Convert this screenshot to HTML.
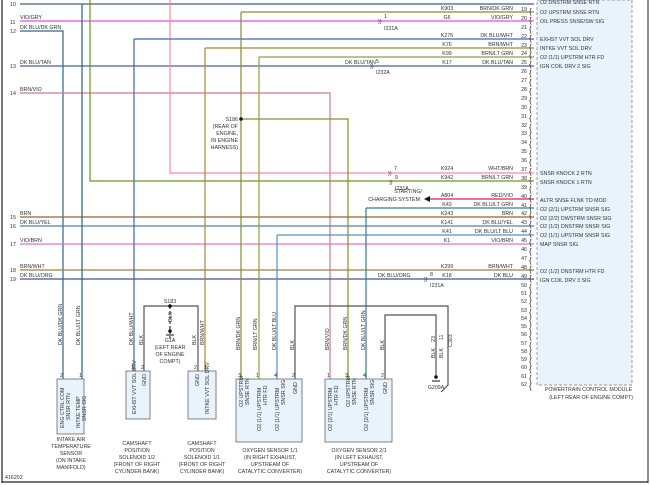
<!DOCTYPE html>
<html><head><meta charset="utf-8"><style>
html,body{margin:0;padding:0;background:#fff}
svg{display:block}
text{font-family:"Liberation Sans",sans-serif;font-size:5.3px;fill:#333}
</style></head><body>
<svg width="650" height="485" viewBox="0 0 650 485" xmlns="http://www.w3.org/2000/svg">
<rect x="0" y="0" width="650" height="485" fill="#fff"/>
<!-- borders -->
<line x1="2" y1="0" x2="2" y2="483" stroke="#222" stroke-width="1.2"/>
<line x1="2" y1="482" x2="648" y2="482" stroke="#222" stroke-width="1.2"/>
<line x1="648" y1="0" x2="648" y2="483" stroke="#222" stroke-width="1"/>
<!-- PCM box -->
<rect x="537" y="0" width="95" height="385" fill="#e8f3fc" stroke="#777" stroke-width="0.7" stroke-dasharray="3,2"/>
<text x="632" y="391" text-anchor="end">POWERTRAIN CONTROL MODULE</text>
<text x="633" y="399" text-anchor="end">(LEFT REAR OF ENGINE COMPT)</text>

<g fill="none" stroke-width="1.2">
<!-- horizontals from left -->
<path d="M20 4 H534" stroke="#3c5f8c"/>
<path d="M20 21 H534" stroke="#e050e0"/>
<path d="M20 31 H63 V379" stroke="#2a6a80"/>
<path d="M20 66 H534" stroke="#4a62a0"/>
<path d="M20 93 H330 V379" stroke="#d07888"/>
<path d="M20 217 H534" stroke="#8a6a20"/>
<path d="M20 226 H534" stroke="#5a80a0"/>
<path d="M20 244 H534" stroke="#e070d0"/>
<path d="M20 270 H534" stroke="#a08040"/>
<path d="M20 279 H534" stroke="#4050a0"/>
<!-- verticals -->
<path d="M82 4 V379" stroke="#206a78"/>
<path d="M90 0 V181 H534" stroke="#6a9a20"/>
<path d="M170 0 V173 H534" stroke="#ff8a9c"/>
<path d="M134 39 H534 M134 39 V371" stroke="#4060c0"/>
<path d="M205 48 H534 M205 48 V371" stroke="#a08840"/>
<path d="M241 12 H534 M241 12 V379" stroke="#8a8a30"/>
<path d="M241 119 H348 V379" stroke="#8a8a30"/>
<path d="M259 57 H534 M259 57 V379" stroke="#90a040"/>
<path d="M277 235 H534 M277 235 V379" stroke="#5090d0"/>
<path d="M366 208 H534 M366 208 V379" stroke="#308090"/>
<path d="M430 199 H534" stroke="#e02040"/>
<!-- grounds -->
<path d="M144 371 V306 H198 V371" stroke="#555"/>
<path d="M295 379 V306 H448 V385 L441 392" stroke="#555"/>
<path d="M385 379 V315 H436 V377" stroke="#555"/>
<path d="M170 306 V340" stroke="#333" stroke-dasharray="3,2"/>
</g>
<polygon points="424,199 430,196 430,202" fill="#111"/>
<circle cx="170" cy="306" r="1.8" fill="#111"/>
<circle cx="241" cy="119" r="1.8" fill="#111"/>
<circle cx="170" cy="331" r="1.8" fill="#111"/><line x1="166" y1="335" x2="174" y2="335" stroke="#111"/>
<circle cx="436" cy="377" r="1.8" fill="#111"/><line x1="432" y1="381" x2="440" y2="381" stroke="#111"/>
<text x="170" y="303" text-anchor="middle">S183</text>
<text x="170" y="342" text-anchor="middle">G1A</text>
<text x="170" y="349" text-anchor="middle">(LEFT REAR</text>
<text x="170" y="356" text-anchor="middle">OF ENGINE</text>
<text x="170" y="363" text-anchor="middle">COMPT)</text>
<text x="436" y="389" text-anchor="middle">G209A</text>
<text x="238" y="121" text-anchor="end">S186</text>
<text x="238" y="128" text-anchor="end">(REAR OF</text>
<text x="238" y="135" text-anchor="end">ENGINE,</text>
<text x="238" y="142" text-anchor="end">IN ENGINE</text>
<text x="238" y="149" text-anchor="end">HARNESS)</text>
<text x="422" y="193" text-anchor="end">STARTING/</text>
<text x="420" y="201" text-anchor="end">CHARGING SYSTEM</text>

<!-- left labels -->
<g>
<text x="10" y="6">10</text><text x="10" y="24">11</text><text x="20" y="19">VIO/GRY</text>
<text x="10" y="33">12</text><text x="20" y="29">DK BLU/DK GRN</text>
<text x="10" y="68">13</text><text x="20" y="64">DK BLU/TAN</text>
<text x="10" y="95">14</text><text x="20" y="91">BRN/VIO</text>
<text x="10" y="219">15</text><text x="20" y="215">BRN</text>
<text x="10" y="228">16</text><text x="20" y="224">DK BLU/YEL</text>
<text x="10" y="246">17</text><text x="20" y="242">VIO/BRN</text>
<text x="10" y="272">18</text><text x="20" y="268">BRN/WHT</text>
<text x="10" y="281">19</text><text x="20" y="277">DK BLU/ORG</text>
<text x="345" y="64">DK BLU/TAN</text>
<text x="378" y="277">DK BLU/ORG</text>
</g>
<!-- connectors )) -->
<g>
<text x="378" y="23">))</text><text x="384" y="18">1</text><text x="384" y="30">I231A</text>
<text x="370" y="68">))</text><text x="376" y="63">5</text><text x="376" y="74">I232A</text>
<text x="388" y="175">))</text><text x="394" y="170">7</text>
<text x="389" y="184">))</text><text x="395" y="179">9</text><text x="395" y="190">I231A</text>
<text x="424" y="281">))</text><text x="430" y="276">8</text><text x="430" y="287">I231A</text>
</g>
<!-- right pin numbers and labels -->
<g id="pins"></g>
<g>
<text x="540" y="4">O2 DNSTRM SNSE RTN</text>
<text x="540" y="14">O2 UPSTRM SNSE RTN</text>
<text x="540" y="23">OIL PRESS SNSE/SW SIG</text>
<text x="540" y="41">EXHST VVT SOL DRV</text>
<text x="540" y="50">INTKE VVT SOL DRV</text>
<text x="540" y="59">O2 (1/1) UPSTRM HTR FD</text>
<text x="540" y="68">IGN COIL DRV 2 SIG</text>
<text x="540" y="175">SNSR KNOCK 2 RTN</text>
<text x="540" y="184">SNSR KNOCK 1 RTN</text>
<text x="540" y="202">ALTR SNSE FLNK TO MOD</text>
<text x="540" y="211">O2 (2/1) UPSTRM SNSR SIG</text>
<text x="540" y="220">O2 (2/2) DWSTRM SNSR SIG</text>
<text x="540" y="228">O2 (1/2) DNSTRM SNSR SIG</text>
<text x="540" y="237">O2 (1/1) UPSTRM SNSR SIG</text>
<text x="540" y="246">MAP SNSR SIG</text>
<text x="540" y="273">O2 (1/2) DNSTRM HTR FD</text>
<text x="540" y="282">IGN COIL DRV 3 SIG</text>
</g>
<g text-anchor="middle">
<text x="447" y="10">K903</text><text x="447" y="19">G6</text><text x="447" y="37">K276</text><text x="447" y="46">K76</text>
<text x="447" y="55">K99</text><text x="447" y="64">K17</text><text x="447" y="170">K924</text><text x="447" y="179">K942</text>
<text x="447" y="197">A804</text><text x="447" y="206">K43</text><text x="447" y="215">K243</text><text x="447" y="224">K141</text>
<text x="447" y="233">K41</text><text x="447" y="242">K1</text><text x="447" y="268">K299</text><text x="447" y="277">K18</text>
</g>
<g text-anchor="end">
<text x="513" y="10">BRN/DK GRN</text><text x="513" y="19">VIO/GRY</text><text x="513" y="37">DK BLU/WHT</text><text x="513" y="46">BRN/WHT</text>
<text x="513" y="55">BRN/LT GRN</text><text x="513" y="64">DK BLU/TAN</text><text x="513" y="170">WHT/BRN</text><text x="513" y="179">BRN/LT GRN</text>
<text x="513" y="197">RED/VIO</text><text x="513" y="206">DK BLU/LT GRN</text><text x="513" y="215">BRN</text><text x="513" y="224">DK BLU/YEL</text>
<text x="513" y="233">DK BLU/LT BLU</text><text x="513" y="242">VIO/BRN</text><text x="513" y="268">BRN/WHT</text><text x="513" y="277">DK BLU</text>
</g>
<g text-anchor="end" id="pn">
<text x="527" y="11">19</text><text x="527" y="20">20</text><text x="527" y="29">21</text><text x="527" y="38">22</text><text x="527" y="47">23</text><text x="527" y="55">24</text><text x="527" y="64">25</text><text x="527" y="73">26</text><text x="527" y="82">27</text><text x="527" y="91">28</text><text x="527" y="100">29</text><text x="527" y="109">30</text><text x="527" y="118">31</text><text x="527" y="127">32</text><text x="527" y="135">33</text><text x="527" y="144">34</text><text x="527" y="153">35</text><text x="527" y="162">36</text><text x="527" y="171">37</text><text x="527" y="180">38</text><text x="527" y="189">39</text><text x="527" y="198">40</text><text x="527" y="207">41</text><text x="527" y="215">42</text><text x="527" y="224">43</text><text x="527" y="233">44</text><text x="527" y="242">45</text><text x="527" y="251">46</text><text x="527" y="260">47</text><text x="527" y="269">48</text><text x="527" y="278">49</text><text x="527" y="287">50</text><text x="527" y="295">51</text><text x="527" y="303">52</text><text x="527" y="312">53</text><text x="527" y="320">54</text><text x="527" y="328">55</text><text x="527" y="336">56</text><text x="527" y="345">57</text><text x="527" y="353">58</text><text x="527" y="361">59</text><text x="527" y="369">60</text><text x="527" y="378">61</text><text x="527" y="386">62</text>
</g>
<g font-size="8" fill="#555">
<text x="529" y="14" style="font-size:8px">{</text><text x="529" y="23" style="font-size:8px">{</text><text x="529" y="32" style="font-size:8px">{</text><text x="529" y="41" style="font-size:8px">{</text><text x="529" y="50" style="font-size:8px">{</text><text x="529" y="58" style="font-size:8px">{</text><text x="529" y="67" style="font-size:8px">{</text><text x="529" y="76" style="font-size:8px">{</text><text x="529" y="85" style="font-size:8px">{</text><text x="529" y="94" style="font-size:8px">{</text><text x="529" y="103" style="font-size:8px">{</text><text x="529" y="112" style="font-size:8px">{</text><text x="529" y="121" style="font-size:8px">{</text><text x="529" y="130" style="font-size:8px">{</text><text x="529" y="138" style="font-size:8px">{</text><text x="529" y="147" style="font-size:8px">{</text><text x="529" y="156" style="font-size:8px">{</text><text x="529" y="165" style="font-size:8px">{</text><text x="529" y="174" style="font-size:8px">{</text><text x="529" y="183" style="font-size:8px">{</text><text x="529" y="192" style="font-size:8px">{</text><text x="529" y="201" style="font-size:8px">{</text><text x="529" y="210" style="font-size:8px">{</text><text x="529" y="218" style="font-size:8px">{</text><text x="529" y="227" style="font-size:8px">{</text><text x="529" y="236" style="font-size:8px">{</text><text x="529" y="245" style="font-size:8px">{</text><text x="529" y="254" style="font-size:8px">{</text><text x="529" y="263" style="font-size:8px">{</text><text x="529" y="272" style="font-size:8px">{</text><text x="529" y="281" style="font-size:8px">{</text><text x="529" y="290" style="font-size:8px">{</text><text x="529" y="298" style="font-size:8px">{</text><text x="529" y="306" style="font-size:8px">{</text><text x="529" y="315" style="font-size:8px">{</text><text x="529" y="323" style="font-size:8px">{</text><text x="529" y="331" style="font-size:8px">{</text><text x="529" y="339" style="font-size:8px">{</text><text x="529" y="348" style="font-size:8px">{</text><text x="529" y="356" style="font-size:8px">{</text><text x="529" y="364" style="font-size:8px">{</text><text x="529" y="372" style="font-size:8px">{</text><text x="529" y="381" style="font-size:8px">{</text><text x="529" y="389" style="font-size:8px">{</text>
</g>

<!-- sensor boxes -->
<g fill="#e8f3fc" stroke="#666" stroke-width="0.8">
<rect x="57" y="379" width="27" height="55"/>
<rect x="126" y="371" width="24" height="48"/>
<rect x="188" y="371" width="28" height="48"/>
<rect x="236" y="379" width="66" height="63"/>
<rect x="325" y="379" width="67" height="63"/>
</g>
<!-- vertical wire labels -->
<g>
<text transform="translate(62,345) rotate(-90)">DK BLU/DK GRN</text>
<text transform="translate(80,345) rotate(-90)">DK BLU/LT GRN</text>
<text transform="translate(133,345) rotate(-90)">DK BLU/WHT</text>
<text transform="translate(143,345) rotate(-90)">BLK</text>
<text transform="translate(172,322) rotate(-90)">BLK</text>
<text transform="translate(196,345) rotate(-90)">BLK</text>
<text transform="translate(204,345) rotate(-90)">BRN/WHT</text>
<text transform="translate(240,350) rotate(-90)">BRN/DK GRN</text>
<text transform="translate(257,350) rotate(-90)">BRN/LT GRN</text>
<text transform="translate(276,350) rotate(-90)">DK BLU/LT BLU</text>
<text transform="translate(294,350) rotate(-90)">BLK</text>
<text transform="translate(329,350) rotate(-90)">BRN/VIO</text>
<text transform="translate(347,350) rotate(-90)">BRN/DK GRN</text>
<text transform="translate(365,350) rotate(-90)">DK BLU/LT GRN</text>
<text transform="translate(384,350) rotate(-90)">BLK</text>
<text transform="translate(435,358) rotate(-90)">BLK</text>
<text transform="translate(443,358) rotate(-90)">BLK</text>
<text transform="translate(435,342) rotate(-90)">23</text>
<text transform="translate(443,340) rotate(-90)">11</text>
<text transform="translate(452,347) rotate(-90)">C303</text>
<!-- pin numbers -->
<text x="60" y="377">2</text><text x="79" y="377">1</text>
<text x="131" y="369">1</text><text x="141" y="369">2</text>
<text x="194" y="369">2</text><text x="204" y="369">1</text>
<text x="238" y="377">3</text><text x="256" y="377">1</text><text x="274" y="377">4</text><text x="292" y="377">2</text>
<text x="327" y="377">1</text><text x="345" y="377">3</text><text x="363" y="377">4</text><text x="381" y="377">2</text>
<!-- inside box labels -->
<text transform="translate(64,428) rotate(-90)">ENG CTRL COM</text>
<text transform="translate(70,420) rotate(-90)">SNSR RTN</text>
<text transform="translate(80,428) rotate(-90)">INTKE TEMP</text>
<text transform="translate(86,421) rotate(-90)">SNSR SIG</text>
<text transform="translate(136,414) rotate(-90)">EXHST VVT SOL DRV</text>
<text transform="translate(146,386) rotate(-90)">GND</text>
<text transform="translate(199,386) rotate(-90)">GND</text>
<text transform="translate(209,414) rotate(-90)">INTKE VVT SOL DRV</text>
<text transform="translate(243,407) rotate(-90)">O2 UPSTRM</text>
<text transform="translate(249,405) rotate(-90)">SNSE RTN</text>
<text transform="translate(261,431) rotate(-90)">O2 (1/1) UPSTRM</text>
<text transform="translate(267,405) rotate(-90)">HTR FD</text>
<text transform="translate(279,431) rotate(-90)">O2 (1/1) UPSTRM</text>
<text transform="translate(285,405) rotate(-90)">SNSR SIG</text>
<text transform="translate(297,394) rotate(-90)">GND</text>
<text transform="translate(332,431) rotate(-90)">O2 (2/1) UPSTRM</text>
<text transform="translate(338,405) rotate(-90)">HTR FD</text>
<text transform="translate(350,407) rotate(-90)">O2 UPSTRM</text>
<text transform="translate(356,405) rotate(-90)">SNSE RTN</text>
<text transform="translate(368,431) rotate(-90)">O2 (2/1) UPSTRM</text>
<text transform="translate(374,405) rotate(-90)">SNSR SIG</text>
<text transform="translate(387,394) rotate(-90)">GND</text>
</g>
<g text-anchor="middle">
<text x="71" y="441">INTAKE AIR</text><text x="71" y="448">TEMPERATURE</text><text x="71" y="455">SENSOR</text><text x="71" y="462">(ON INTAKE</text><text x="71" y="469">MANIFOLD)</text>
<text x="137" y="445">CAMSHAFT</text><text x="137" y="452">POSITION</text><text x="137" y="459">SOLENOID 1/2</text><text x="137" y="466">(FRONT OF RIGHT</text><text x="137" y="473">CYLINDER BANK)</text>
<text x="202" y="445">CAMSHAFT</text><text x="202" y="452">POSITION</text><text x="202" y="459">SOLENOID 1/1</text><text x="202" y="466">(FRONT OF RIGHT</text><text x="202" y="473">CYLINDER BANK)</text>
<text x="270" y="452">OXYGEN SENSOR 1/1</text><text x="270" y="459">(IN RIGHT EXHAUST,</text><text x="270" y="466">UPSTREAM OF</text><text x="270" y="473">CATALYTIC CONVERTER)</text>
<text x="359" y="452">OXYGEN SENSOR 2/1</text><text x="359" y="459">(IN LEFT EXHAUST,</text><text x="359" y="466">UPSTREAM OF</text><text x="359" y="473">CATALYTIC CONVERTER)</text>
</g>
<text x="5" y="479">416202</text>
</svg>
</body></html>
